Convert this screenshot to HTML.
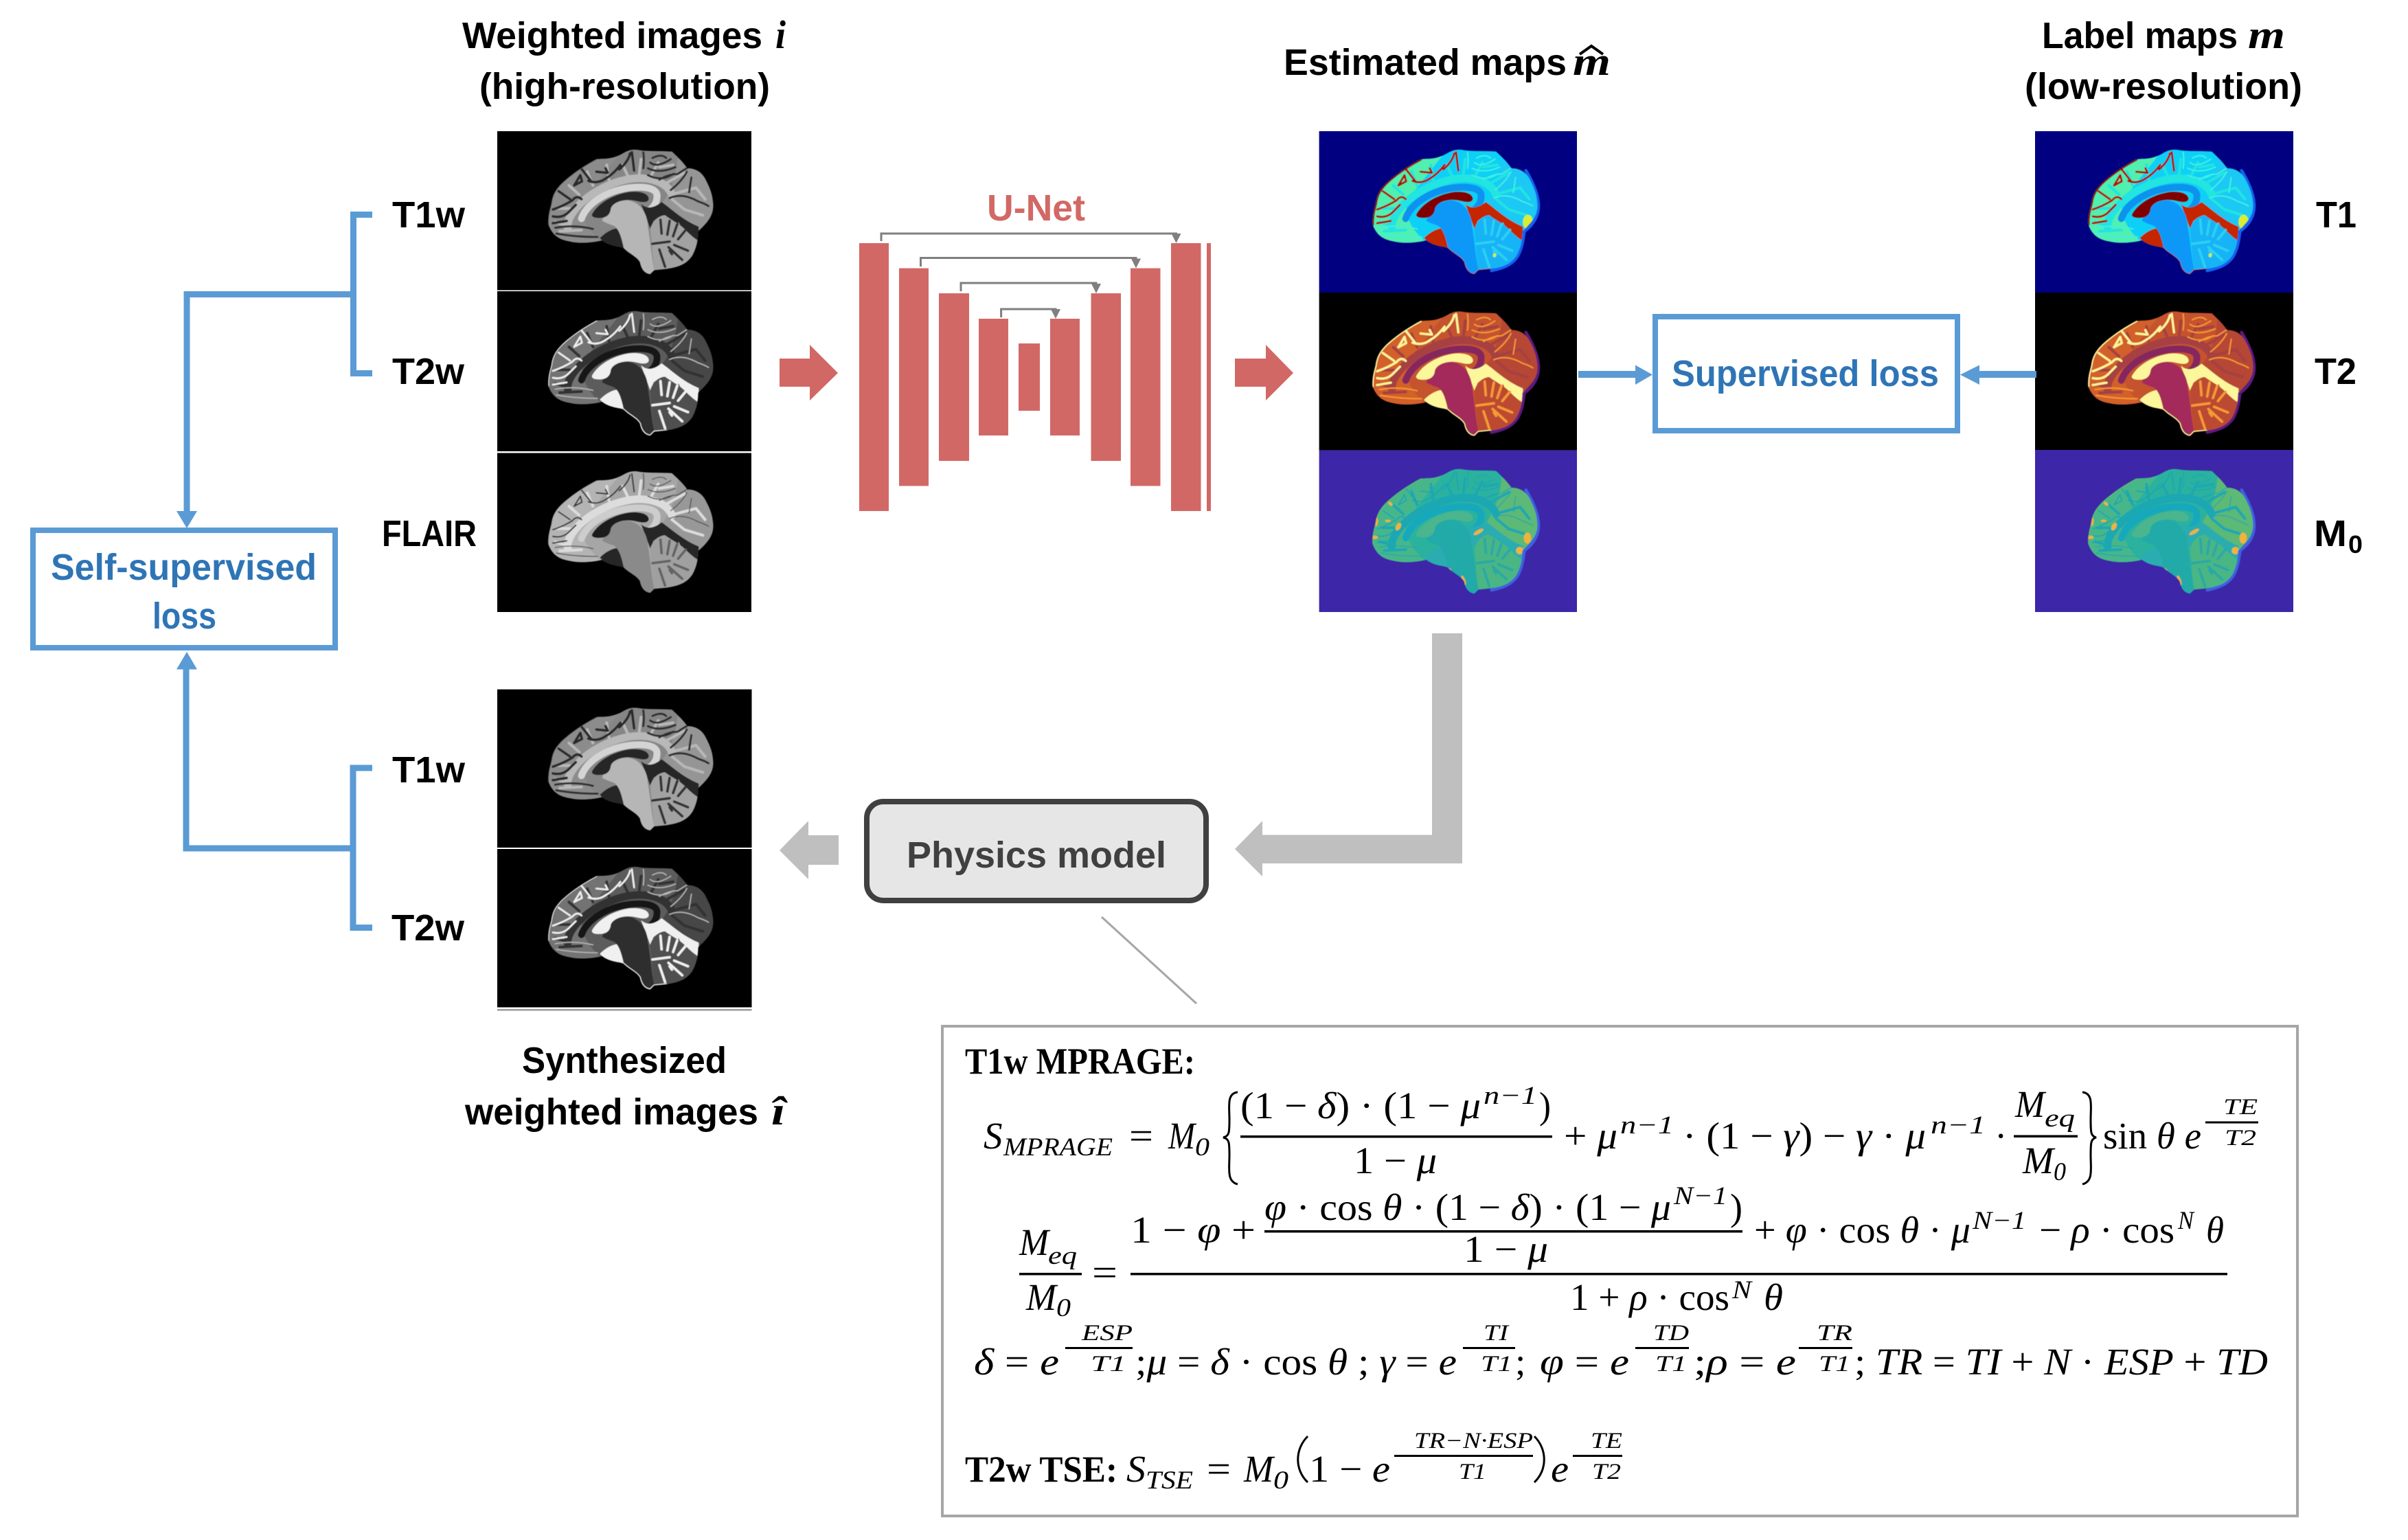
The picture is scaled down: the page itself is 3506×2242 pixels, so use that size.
<!DOCTYPE html>
<html><head><meta charset="utf-8"><title>Diagram</title>
<style>
html,body{margin:0;padding:0;background:#fff}
svg{display:block}
.s{font-family:"Liberation Sans",sans-serif;font-weight:700;font-size:54px}
.m{font-family:"Liberation Serif",serif;font-size:55px;font-style:italic;fill:#000}
.r{font-style:normal}
.u{font-family:"Liberation Serif",serif;font-size:37px;font-style:italic}
.t{font-family:"Liberation Serif",serif;font-size:33px;font-style:italic}
.bi{font-family:"Liberation Serif",serif;font-size:58px;font-style:italic;font-weight:700}
.sb{font-family:"Liberation Serif",serif;font-size:54px;font-weight:700}
.b0{fill:var(--body)}
.bf{fill:var(--front)}
.bo{fill:var(--occ)}
.bs{fill:none;stroke:var(--sulc);stroke-width:var(--sw);stroke-linecap:round;stroke-linejoin:round}
.bs2{fill:none;stroke:var(--sulc2);stroke-width:var(--sw2);stroke-linecap:round;stroke-linejoin:round}
.bw{fill:none;stroke:var(--wm);stroke-width:12;stroke-linecap:round}
.bw2{fill:none;stroke:var(--wm);stroke-width:34;stroke-linecap:round}
.bc{fill:none;stroke:var(--cc);stroke-width:30;stroke-linecap:round}
.bv{fill:var(--vent)}
.bt{fill:var(--stem)}
.bb{fill:var(--cb)}
.bl{fill:none;stroke:var(--fol);stroke-width:11;stroke-linecap:round}
.bx{fill:var(--csf)}
.be{fill:none;stroke:var(--edge);stroke-width:var(--ew);stroke-linecap:round}
.be2{fill:none;stroke:var(--edge2);stroke-width:var(--ew2);stroke-linecap:round}
.bh{fill:var(--spot)}
.bj{fill:var(--spot2)}
.rim{fill:none;stroke:var(--rim);stroke-width:14;stroke-linecap:round}
.t1w{--body:#868686;--front:#8c8c8c;--occ:#959595;--sulc:#2a2a2a;--sw:11;--sulc2:#2e2e2e;--sw2:9;--wm:#b8b8b8;--cc:#d4d4d4;--vent:#262626;--stem:#b6b6b6;--cb:#a2a2a2;--fol:#333;--csf:#262626;--edge:#5a5a5a;--ew:5;--edge2:transparent;--ew2:2;--spot:transparent;--spot2:transparent;--rim:transparent}
.t2w{--body:#5c5c5c;--front:#737373;--occ:#474747;--sulc:#efefef;--sw:8;--sulc2:#b4b4b4;--sw2:5;--wm:#323232;--cc:#151515;--vent:#f0f0f0;--stem:#2f2f2f;--cb:#505050;--fol:#f0f0f0;--csf:#f0f0f0;--edge:#e8e8e8;--ew:7;--edge2:#f0f0f0;--ew2:8;--spot:transparent;--spot2:transparent;--rim:transparent}
.fl{--body:#a6a6a6;--front:#b4b4b4;--occ:#989898;--sulc:#383838;--sw:6;--sulc2:#4a4a4a;--sw2:4;--wm:#dcdcdc;--cc:#cdcdcd;--vent:#1c1c1c;--stem:#8a8a8a;--cb:#a0a0a0;--fol:#636363;--csf:#262626;--edge:#8a8a8a;--ew:4;--edge2:transparent;--ew2:2;--spot:transparent;--spot2:transparent;--rim:transparent}
.j{--body:#10d0f6;--front:#4ff0b0;--occ:#1cc8f4;--sulc:#b01000;--sw:9;--sulc2:#40f0e0;--sw2:6;--wm:#20e4e0;--cc:#1092ee;--vent:#800000;--stem:#0a98f8;--cb:#12b4f6;--fol:#2ed0f2;--csf:#c42800;--edge:#8c0000;--ew:14;--edge2:#d83000;--ew2:5;--spot:transparent;--spot2:#d8ee30;--rim:#1460f0}
.i{--body:#c4522f;--front:#d2602c;--occ:#b64636;--sulc:#fff59a;--sw:10;--sulc2:#f79a34;--sw2:6;--wm:#a63f42;--cc:#85285e;--vent:#fdf79c;--stem:#a32c5a;--cb:#bc4a30;--fol:#f69a34;--csf:#fdf79c;--edge:#fdf79c;--ew:11;--edge2:#fdf79c;--ew2:9;--spot:transparent;--spot2:transparent;--rim:#5a1a80}
.p{--body:#2cb29e;--front:#46b78a;--occ:#5cb976;--sulc:#1ca4b4;--sw:5;--sulc2:#20a4b4;--sw2:4;--wm:#1da8b2;--cc:#17a8bc;--vent:#4cb68e;--stem:#22aaa8;--cb:#4ab684;--fol:#2aa8a8;--csf:#2cacb0;--edge:#60ba6c;--ew:8;--edge2:transparent;--ew2:2;--spot:#f2b23a;--spot2:transparent;--rim:#3f60e0}
</style></head>
<body>
<svg xmlns="http://www.w3.org/2000/svg" width="3506" height="2242" viewBox="0 0 3506 2242">
<defs>
<filter id="sf" x="-5%" y="-5%" width="110%" height="110%"><feGaussianBlur stdDeviation="1.5"/></filter>
<clipPath id="bc"><path d="M205 410C203 370 212 345 218 320C222 290 230 265 262 232C290 205 340 165 415 125C450 122 480 128 530 100C555 85 575 80 600 85C640 92 700 88 745 92C770 115 795 140 812 165C840 165 870 175 890 210C905 240 922 270 925 320C927 360 915 390 860 440C858 480 855 505 835 545C815 575 790 595 720 605L668 610L650 628C630 625 612 612 605 575C590 550 560 540 535 515C525 505 480 510 440 480C400 490 340 495 300 485C260 478 225 465 205 410Z"/></clipPath>
<g id="brain" filter="url(#sf)">
<path class="rim" d="M875 175C905 225 930 280 930 330C930 370 910 410 868 440C862 490 855 520 838 550C815 585 780 600 725 612"/>
<g clip-path="url(#bc)">
<path class="b0" d="M180 60H950V650H180Z"/>
<path class="bf" d="M190 520V300L415 100L510 110Q430 210 360 300Q335 370 400 450L440 490Z"/>
<path class="bo" d="M770 120L940 220V400L860 440L740 350L700 320Q760 240 770 120Z"/>
<path class="bw" d="M560 215L530 150M600 210L610 125M650 205L685 140M720 230L800 185M740 280L850 250L890 300M340 280L295 240M400 240L375 180M470 215L460 150M300 340L245 340M300 420L235 400M350 435L255 440M745 300L800 345L880 370M690 160L750 150"/>
<path class="bw2" d="M290 425C280 360 400 240 560 212C640 200 720 220 745 280"/>
<path class="bs" d="M225 345Q270 330 310 305Q330 280 350 300M250 265L300 300M318 240L352 222L345 195L318 240M380 220Q420 235 455 210Q490 190 520 150M415 180L465 185L455 165M515 170Q555 135 562 100M580 175L570 95M300 350L325 325M340 155L395 225M225 375Q270 385 300 350M225 405L285 395"/>
<path class="bs2" d="M620 165Q625 130 620 95M650 140Q680 165 740 125M690 215Q730 190 770 190Q800 170 810 165M735 295Q790 270 860 310Q890 320 905 330M640 195Q700 225 750 190M810 180Q790 220 740 260M235 425Q320 410 400 430M240 450Q320 465 420 465M660 120Q700 100 720 120M830 205L820 270M640 165Q690 190 760 160"/>
<path class="bc" d="M350 385C370 325 450 265 560 250C620 243 680 250 680 285C680 315 665 335 650 345"/>
<path class="bx" d="M610 320C630 340 660 345 700 312C740 340 790 390 862 420L862 490C835 480 815 470 800 455L775 400L760 420L735 395L710 370L685 380L665 395L650 430C640 400 625 360 610 320ZM430 470C460 440 490 425 528 425C530 470 530 500 540 530C500 515 470 505 440 480Z"/>
<path class="bb" d="M650 430C660 395 690 370 715 370C740 390 775 405 800 430C820 450 840 470 862 482C858 500 855 515 835 545C815 575 790 595 720 605L668 610C660 560 655 480 650 430Z"/>
<path class="bl" d="M700 450L695 390M725 455L735 395M750 462L768 410M772 475L805 435M660 495L735 485M730 510L790 565M690 520L715 595M755 500L815 525M735 525L745 540"/>
<path class="bt" d="M440 395C455 350 490 305 550 305C610 310 640 370 640 420C650 470 655 550 668 610L650 628C630 625 612 612 605 575C590 550 560 540 535 515C525 470 515 430 490 415C470 410 455 402 440 395Z"/>
<path class="bv" d="M395 368C420 318 490 278 560 268C600 264 642 272 644 298C642 315 620 316 590 308C540 295 490 310 478 340C475 375 450 382 425 382C408 382 396 378 395 368Z"/>
<path class="be" d="M205 410C203 370 212 345 218 320C222 290 230 265 262 232C290 205 340 165 415 125"/>
<path class="be2" d="M535 515C560 540 590 550 605 575C612 612 630 625 650 628L668 610L720 605"/>
<g class="bh"><ellipse cx="220" cy="312" rx="9" ry="20"/><ellipse cx="215" cy="382" rx="14" ry="7"/><ellipse cx="318" cy="335" rx="10" ry="18" transform="rotate(30 318 335)"/><ellipse cx="283" cy="235" rx="12" ry="6" transform="rotate(40 283 235)"/><ellipse cx="272" cy="310" rx="12" ry="5"/><ellipse cx="668" cy="358" rx="8" ry="24" transform="rotate(60 668 358)"/><ellipse cx="848" cy="440" rx="16" ry="16"/><ellipse cx="882" cy="385" rx="16" ry="24"/><ellipse cx="603" cy="570" rx="7" ry="22" transform="rotate(-20 603 570)"/><ellipse cx="537" cy="521" rx="13" ry="5" transform="rotate(20 537 521)"/></g>
<g class="bj"><ellipse cx="884" cy="400" rx="22" ry="32"/><ellipse cx="738" cy="545" rx="7" ry="9"/></g>
</g></g>
<path id="ah" d="M-7 -11H7L0 3Z" fill="#7f7f7f"/>
</defs>

<rect width="3506" height="2242" fill="#fff"/>

<!-- image panels left -->
<rect x="724" y="191" width="370" height="231.500" fill="#000"/>
<rect x="724" y="424" width="370" height="233" fill="#000"/>
<rect x="724" y="659.500" width="370" height="231.500" fill="#000"/>
<use href="#brain" class="t1w" transform="translate(730,190) scale(.3333)"/>
<use href="#brain" class="t2w" transform="translate(730,425) scale(.3333)"/>
<use href="#brain" class="fl" transform="translate(730,659) scale(.3333 .325)"/>

<!-- estimated panels -->
<rect x="1920.600" y="191" width="375.400" height="235" fill="#000080"/>
<rect x="1920.600" y="426" width="375.400" height="229.600" fill="#000"/>
<rect x="1920.600" y="655.600" width="375.400" height="235.400" fill="#3d26a8"/>
<use href="#brain" class="j" transform="translate(1930,190) scale(.3333)"/>
<use href="#brain" class="i" transform="translate(1930,425.500) scale(.3333)"/>
<use href="#brain" class="p" transform="translate(1930,655) scale(.3333)"/>

<!-- label panels -->
<rect x="2963" y="191" width="376" height="235" fill="#000080"/>
<rect x="2963" y="426" width="376" height="229" fill="#000"/>
<rect x="2963" y="655" width="376" height="236" fill="#3d26a8"/>
<use href="#brain" class="j" transform="translate(2972,190) scale(.3333)"/>
<use href="#brain" class="i" transform="translate(2972,425.500) scale(.3333)"/>
<use href="#brain" class="p" transform="translate(2972,655) scale(.3333)"/>

<!-- synth panels -->
<rect x="724" y="1003.600" width="370.500" height="230.400" fill="#000"/>
<rect x="724" y="1236" width="370.500" height="230.500" fill="#000"/>
<rect x="724" y="1469" width="370.500" height="2.500" fill="#9a9a9a"/>
<use href="#brain" class="t1w" transform="translate(730,1003) scale(.3333 .328)"/>
<use href="#brain" class="t2w" transform="translate(730,1234.500) scale(.3333 .328)"/>

<!-- titles -->
<text class="s" x="673" y="70" textLength="437" lengthAdjust="spacingAndGlyphs">Weighted images</text>
<text class="bi" x="1129" y="70" textLength="15" lengthAdjust="spacingAndGlyphs">i</text>
<text class="s" x="698" y="144" textLength="423" lengthAdjust="spacingAndGlyphs">(high-resolution)</text>
<text class="s" x="1869" y="109" textLength="412" lengthAdjust="spacingAndGlyphs">Estimated maps</text>
<text class="bi" x="2290" y="109" textLength="55" lengthAdjust="spacingAndGlyphs">m</text>
<path d="M2300 79L2317 67L2334 79" fill="none" stroke="#000" stroke-width="4"/>
<text class="s" x="2973" y="70" textLength="285" lengthAdjust="spacingAndGlyphs">Label maps</text>
<text class="bi" x="3273" y="70" textLength="54" lengthAdjust="spacingAndGlyphs">m</text>
<text class="s" x="2948" y="144" textLength="404" lengthAdjust="spacingAndGlyphs">(low-resolution)</text>
<text class="s" x="760" y="1562" textLength="298" lengthAdjust="spacingAndGlyphs">Synthesized</text>
<text class="s" x="677" y="1637" textLength="427" lengthAdjust="spacingAndGlyphs">weighted images</text>
<text class="bi" x="1123" y="1637" textLength="20" lengthAdjust="spacingAndGlyphs">î</text>

<!-- side labels -->
<text class="s" x="571" y="331" textLength="106" lengthAdjust="spacingAndGlyphs">T1w</text>
<text class="s" x="571" y="559" textLength="105" lengthAdjust="spacingAndGlyphs">T2w</text>
<text class="s" x="556" y="795" textLength="138" lengthAdjust="spacingAndGlyphs">FLAIR</text>
<text class="s" x="571" y="1139" textLength="106" lengthAdjust="spacingAndGlyphs">T1w</text>
<text class="s" x="570" y="1369" textLength="106" lengthAdjust="spacingAndGlyphs">T2w</text>
<text class="s" x="3372" y="331" textLength="59" lengthAdjust="spacingAndGlyphs">T1</text>
<text class="s" x="3370" y="559" textLength="61" lengthAdjust="spacingAndGlyphs">T2</text>
<text class="s" x="3369" y="795" textLength="48" lengthAdjust="spacingAndGlyphs">M</text>
<text class="s" x="3419" y="805" style="font-size:36px" textLength="21" lengthAdjust="spacingAndGlyphs">0</text>

<!-- blue connectors -->
<g fill="none" stroke="#5b9bd5" stroke-width="9">
<path d="M542 312.500H514.500V543.500H542"/>
<path d="M514.500 428.500H272V750"/>
<path d="M542 1118H514V1350.500H542"/>
<path d="M514 1235H271V970"/>
<rect x="48" y="772" width="440" height="171" stroke-width="8"/>
<rect x="2410" y="461" width="440" height="166" stroke-width="8"/>
<path d="M2298 545H2385" stroke-width="10"/>
<path d="M2965 545H2880" stroke-width="10"/>
</g>
<path d="M257 744H287L272 769Z M257 974.500H287L272 949Z" fill="#5b9bd5"/>
<path d="M2381 531.500L2406 545.500L2381 560Z M2882 531.500L2854 545.500L2882 560Z" fill="#5b9bd5"/>
<text class="s" x="74" y="844" fill="#2e75b6" textLength="387" lengthAdjust="spacingAndGlyphs">Self-supervised</text>
<text class="s" x="222" y="915" fill="#2e75b6" textLength="93" lengthAdjust="spacingAndGlyphs">loss</text>
<text class="s" x="2434" y="562" fill="#2e75b6" textLength="389" lengthAdjust="spacingAndGlyphs">Supervised loss</text>

<!-- red arrows & unet -->
<g fill="#d26865">
<path d="M1135 522H1179V502L1220 543L1179 583V563H1135Z"/>
<path d="M1798 522H1843V502L1883 543L1843 583V563H1798Z"/>
<rect x="1251" y="354" width="43" height="390"/>
<rect x="1309" y="390.500" width="43" height="317"/>
<rect x="1367" y="427" width="44" height="244"/>
<rect x="1425" y="464" width="43" height="170"/>
<rect x="1483" y="500" width="31" height="98"/>
<rect x="1529" y="464" width="43" height="170"/>
<rect x="1588.500" y="427" width="43.500" height="244"/>
<rect x="1646" y="390.500" width="43.500" height="317"/>
<rect x="1705" y="354" width="43.500" height="390"/>
<rect x="1757" y="354" width="6" height="390"/>
</g>
<text class="s" x="1437" y="321" fill="#d26865" textLength="143" lengthAdjust="spacingAndGlyphs">U-Net</text>
<g fill="none" stroke="#7f7f7f" stroke-width="3">
<path d="M1283 351V340H1712.500V345"/>
<path d="M1340.500 388V375.500H1654V381"/>
<path d="M1399 424V412H1596V418"/>
<path d="M1457.600 462V450H1537V455"/>
</g>
<use href="#ah" transform="translate(1712.500,351)"/>
<use href="#ah" transform="translate(1654,387.500)"/>
<use href="#ah" transform="translate(1596,424)"/>
<use href="#ah" transform="translate(1537,461)"/>

<!-- gray arrows and physics -->
<g fill="#bfbfbf">
<path d="M1135 1238L1177 1195V1216H1221V1259H1177V1280Z"/>
<path d="M1798 1236L1838 1195V1215.500H2085V922H2129V1257H1838V1276Z"/>
</g>
<rect x="1262" y="1167" width="494" height="144" rx="24" ry="24" fill="#e6e6e6" stroke="#404040" stroke-width="8"/>
<text class="s" x="1320" y="1263" fill="#404040" textLength="378" lengthAdjust="spacingAndGlyphs">Physics model</text>
<path d="M1604 1335L1742 1461" stroke="#a6a6a6" stroke-width="3" fill="none"/>

<!-- formula box -->
<rect x="1372" y="1494" width="1973" height="713" fill="#fff" stroke="#a6a6a6" stroke-width="4"/>
<text class="sb" x="1405" y="1563" textLength="335" lengthAdjust="spacingAndGlyphs">T1w MPRAGE:</text>

<!-- line 1 -->
<text class="m" x="1432" y="1672">S</text>
<text class="u" x="1461" y="1682" textLength="159" lengthAdjust="spacingAndGlyphs">MPRAGE</text>
<text class="m r" x="1644" y="1672" textLength="35" lengthAdjust="spacingAndGlyphs">=</text>
<text class="m" x="1701" y="1672" textLength="39" lengthAdjust="spacingAndGlyphs">M</text>
<text class="u r" x="1740" y="1682" textLength="21" lengthAdjust="spacingAndGlyphs">0</text>
<path d="M1802 1590C1786 1592 1790 1610 1790 1630C1790 1648 1790 1654 1781 1656C1790 1658 1790 1664 1790 1682C1790 1702 1786 1720 1802 1724" fill="none" stroke="#000" stroke-width="3"/>
<text class="m r" x="1806" y="1628" textLength="350" lengthAdjust="spacingAndGlyphs">(1 − <tspan class="m">δ</tspan>) · (1 − <tspan class="m">μ</tspan></text>
<text class="u r" x="2160" y="1607" textLength="78" lengthAdjust="spacingAndGlyphs"><tspan class="u">n</tspan>−1</text>
<text class="m r" x="2241" y="1628" textLength="17" lengthAdjust="spacingAndGlyphs">)</text>
<rect x="1806" y="1653" width="454" height="3.500"/>
<text class="m r" x="1971" y="1708" textLength="121" lengthAdjust="spacingAndGlyphs">1 − <tspan class="m">μ</tspan></text>
<text class="m r" x="2277" y="1672" textLength="78" lengthAdjust="spacingAndGlyphs">+ <tspan class="m">μ</tspan></text>
<text class="u r" x="2359" y="1650" textLength="78" lengthAdjust="spacingAndGlyphs"><tspan class="u">n</tspan>−1</text>
<text class="m r" x="2450" y="1672" textLength="354" lengthAdjust="spacingAndGlyphs">· (1 − <tspan class="m">γ</tspan>) − <tspan class="m">γ</tspan> · <tspan class="m">μ</tspan></text>
<text class="u r" x="2811" y="1650" textLength="80" lengthAdjust="spacingAndGlyphs"><tspan class="u">n</tspan>−1</text>
<text class="m r" x="2904" y="1672">·</text>
<text class="m" x="2934" y="1626" textLength="43" lengthAdjust="spacingAndGlyphs">M</text>
<text class="u" x="2977" y="1640" textLength="44" lengthAdjust="spacingAndGlyphs">eq</text>
<rect x="2932" y="1652.500" width="93" height="3.500"/>
<text class="m" x="2945" y="1708" textLength="45" lengthAdjust="spacingAndGlyphs">M</text>
<text class="u r" x="2990" y="1718" textLength="18" lengthAdjust="spacingAndGlyphs">0</text>
<path d="M3032 1590C3048 1592 3044 1610 3044 1630C3044 1648 3044 1654 3052 1656C3044 1658 3044 1664 3044 1682C3044 1702 3048 1720 3032 1724" fill="none" stroke="#000" stroke-width="3"/>
<text class="m r" x="3062" y="1672" textLength="143" lengthAdjust="spacingAndGlyphs">sin <tspan class="m">θ e</tspan></text>
<rect x="3211" y="1632.500" width="77" height="3"/>
<text class="t" x="3237" y="1622" textLength="50" lengthAdjust="spacingAndGlyphs">TE</text>
<text class="t" x="3239" y="1667" textLength="46" lengthAdjust="spacingAndGlyphs">T2</text>

<!-- line 2 -->
<text class="m" x="1484" y="1827" textLength="43" lengthAdjust="spacingAndGlyphs">M</text>
<text class="u" x="1526" y="1840" textLength="42" lengthAdjust="spacingAndGlyphs">eq</text>
<rect x="1484" y="1853" width="91" height="3.500"/>
<text class="m" x="1494" y="1907" textLength="44" lengthAdjust="spacingAndGlyphs">M</text>
<text class="u r" x="1538" y="1916" textLength="21" lengthAdjust="spacingAndGlyphs">0</text>
<text class="m r" x="1590" y="1871" textLength="37" lengthAdjust="spacingAndGlyphs">=</text>
<rect x="1646" y="1853" width="1597" height="3.500"/>
<text class="m r" x="1646" y="1809" textLength="182" lengthAdjust="spacingAndGlyphs">1 − <tspan class="m">φ</tspan> +</text>
<text class="m r" x="1841" y="1776" textLength="592" lengthAdjust="spacingAndGlyphs"><tspan class="m">φ</tspan> · cos <tspan class="m">θ</tspan> · (1 − <tspan class="m">δ</tspan>) · (1 − <tspan class="m">μ</tspan></text>
<text class="u r" x="2437" y="1753" textLength="78" lengthAdjust="spacingAndGlyphs"><tspan class="u">N</tspan>−1</text>
<text class="m r" x="2519" y="1776" textLength="18" lengthAdjust="spacingAndGlyphs">)</text>
<rect x="1841" y="1791" width="696" height="3.500"/>
<text class="m r" x="2131" y="1837" textLength="123" lengthAdjust="spacingAndGlyphs">1 − <tspan class="m">μ</tspan></text>
<text class="m r" x="2554" y="1809" textLength="315" lengthAdjust="spacingAndGlyphs">+ <tspan class="m">φ</tspan> · cos <tspan class="m">θ</tspan> · <tspan class="m">μ</tspan></text>
<text class="u r" x="2872" y="1789" textLength="78" lengthAdjust="spacingAndGlyphs"><tspan class="u">N</tspan>−1</text>
<text class="m r" x="2969" y="1809" textLength="197" lengthAdjust="spacingAndGlyphs">− <tspan class="m">ρ</tspan> · cos</text>
<text class="u" x="3171" y="1789" textLength="23" lengthAdjust="spacingAndGlyphs">N</text>
<text class="m" x="3212" y="1809" textLength="26" lengthAdjust="spacingAndGlyphs">θ</text>
<text class="m r" x="2286" y="1907" textLength="232" lengthAdjust="spacingAndGlyphs">1 + <tspan class="m">ρ</tspan> · cos</text>
<text class="u" x="2522" y="1890" textLength="28" lengthAdjust="spacingAndGlyphs">N</text>
<text class="m" x="2568" y="1907" textLength="28" lengthAdjust="spacingAndGlyphs">θ</text>

<!-- line 3 -->
<text class="m r" x="1418" y="2001" textLength="124" lengthAdjust="spacingAndGlyphs"><tspan class="m">δ</tspan> = <tspan class="m">e</tspan></text>
<rect x="1551" y="1961" width="98" height="3"/>
<text class="t" x="1575" y="1951" textLength="74" lengthAdjust="spacingAndGlyphs">ESP</text>
<text class="t" x="1588" y="1996" textLength="52" lengthAdjust="spacingAndGlyphs">T1</text>
<text class="m r" x="1653" y="2001" textLength="468" lengthAdjust="spacingAndGlyphs">;<tspan class="m">μ</tspan> = <tspan class="m">δ</tspan> · cos <tspan class="m">θ</tspan> ; <tspan class="m">γ</tspan> = <tspan class="m">e</tspan></text>
<rect x="2130" y="1961" width="76" height="3"/>
<text class="t" x="2160" y="1951" textLength="36" lengthAdjust="spacingAndGlyphs">TI</text>
<text class="t" x="2156" y="1996" textLength="46" lengthAdjust="spacingAndGlyphs">T1</text>
<text class="m r" x="2206" y="2001">;</text>
<text class="m r" x="2242" y="2001" textLength="130" lengthAdjust="spacingAndGlyphs"><tspan class="m">φ</tspan> = <tspan class="m">e</tspan></text>
<rect x="2381" y="1961" width="78" height="3"/>
<text class="t" x="2407" y="1951" textLength="52" lengthAdjust="spacingAndGlyphs">TD</text>
<text class="t" x="2410" y="1996" textLength="46" lengthAdjust="spacingAndGlyphs">T1</text>
<text class="m r" x="2466" y="2001" textLength="149" lengthAdjust="spacingAndGlyphs">;<tspan class="m">ρ</tspan> = <tspan class="m">e</tspan></text>
<rect x="2619" y="1961" width="78" height="3"/>
<text class="t" x="2645" y="1951" textLength="52" lengthAdjust="spacingAndGlyphs">TR</text>
<text class="t" x="2648" y="1996" textLength="46" lengthAdjust="spacingAndGlyphs">T1</text>
<text class="m r" x="2700" y="2001" textLength="602" lengthAdjust="spacingAndGlyphs">; <tspan class="m">TR</tspan> = <tspan class="m">TI</tspan> + <tspan class="m">N</tspan> · <tspan class="m">ESP</tspan> + <tspan class="m">TD</tspan></text>

<!-- line 4 -->
<text class="sb" x="1405" y="2157" textLength="222" lengthAdjust="spacingAndGlyphs">T2w TSE:</text>
<text class="m" x="1640" y="2157" textLength="28" lengthAdjust="spacingAndGlyphs">S</text>
<text class="u" x="1668" y="2167" textLength="69" lengthAdjust="spacingAndGlyphs">TSE</text>
<text class="m r" x="1757" y="2157" textLength="35" lengthAdjust="spacingAndGlyphs">=</text>
<text class="m" x="1811" y="2157" textLength="43" lengthAdjust="spacingAndGlyphs">M</text>
<text class="u r" x="1854" y="2167" textLength="22" lengthAdjust="spacingAndGlyphs">0</text>
<path d="M1904 2091C1885 2110 1885 2140 1904 2158" fill="none" stroke="#000" stroke-width="3"/>
<text class="m r" x="1906" y="2157" textLength="118" lengthAdjust="spacingAndGlyphs">1 − <tspan class="m">e</tspan></text>
<rect x="2030" y="2118" width="202" height="3"/>
<text class="t" x="2059" y="2108" textLength="173" lengthAdjust="spacingAndGlyphs">TR−N·ESP</text>
<text class="t" x="2124" y="2153" textLength="40" lengthAdjust="spacingAndGlyphs">T1</text>
<path d="M2234 2091C2253 2110 2253 2140 2234 2158" fill="none" stroke="#000" stroke-width="3"/>
<text class="m" x="2258" y="2157" textLength="26" lengthAdjust="spacingAndGlyphs">e</text>
<rect x="2290" y="2118" width="72" height="3"/>
<text class="t" x="2316" y="2108" textLength="46" lengthAdjust="spacingAndGlyphs">TE</text>
<text class="t" x="2318" y="2153" textLength="42" lengthAdjust="spacingAndGlyphs">T2</text>
</svg>
</body></html>
